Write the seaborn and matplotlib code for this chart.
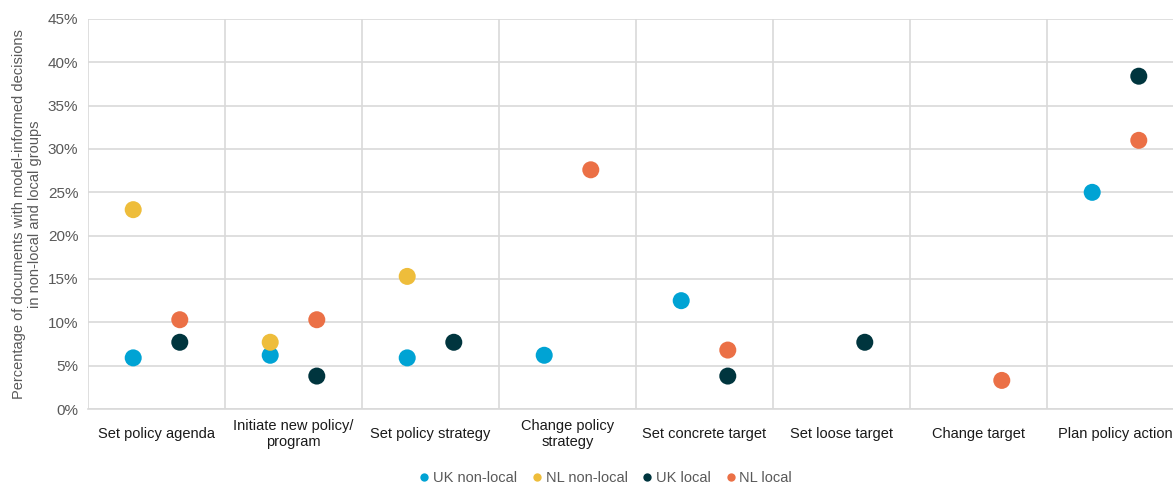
import numpy as np
import pandas as pd
import matplotlib
matplotlib.use("Agg")
import matplotlib.pyplot as plt
import seaborn as sns

# Données (en %)
categories = ["Set policy agenda", "Initiate new policy/\nprogram", "Set policy strategy",
              "Change policy\nstrategy", "Set concrete target", "Set loose target",
              "Change target", "Plan policy action"]
uk_nonlocal = [5.9, 6.2, 5.9, 6.2, 12.5, np.nan, np.nan, 25.0]
nl_nonlocal = [23.0, 7.7, 15.3, np.nan, np.nan, np.nan, np.nan, np.nan]
uk_local = [7.7, 3.8, 7.7, np.nan, 3.8, 7.7, np.nan, 38.4]
nl_local = [10.3, 10.3, np.nan, 27.6, 6.8, np.nan, 3.3, 31.0]

series_names = ["UK non-local", "NL non-local", "UK local", "NL local"]
colors = ["#00A3D4", "#EEBD3B", "#00353E", "#EB7046"]
yticks = [0, 5, 10, 15, 20, 25, 30, 35, 40, 45]

# non-local à gauche, local à droite dans chaque catégorie
offsets = {"UK non-local": -0.17, "NL non-local": -0.17, "UK local": 0.17, "NL local": 0.17}

rows = []
for name, vals in zip(series_names, [uk_nonlocal, nl_nonlocal, uk_local, nl_local]):
    for i, v in enumerate(vals):
        rows.append({"series": name, "cat": i, "pos": i + offsets[name], "value": v})
df = pd.DataFrame(rows).dropna()

sns.set_style("white")
plt.rcParams["font.family"] = ["Liberation Sans", "DejaVu Sans"]

fig = plt.figure(figsize=(11.73, 4.86), dpi=100)
ax = fig.add_axes([88 / 1173, 77 / 486, 1096 / 1173, 390 / 486])

sns.scatterplot(data=df, x="pos", y="value", hue="series", hue_order=series_names,
                palette=dict(zip(series_names, colors)), s=150, linewidth=0,
                zorder=3, ax=ax)

ax.set_xlim(-0.5, len(categories) - 0.5)
ax.set_ylim(0, 45)
ax.set_yticks(yticks)
ax.set_yticklabels([f"{t}%" for t in yticks], color="#595959", fontsize=11)
ax.set_xticks(range(len(categories)))
ax.set_xticklabels(categories, fontsize=10.5, color="#1a1a1a")
for lbl in ax.get_xticklabels():
    lbl.set_va("center")
ax.set_xticks(np.arange(-0.5, len(categories), 1), minor=True)
ax.tick_params(axis="x", which="both", length=0, pad=18)
ax.tick_params(axis="y", length=0, pad=7)

ax.grid(axis="y", color="#D9D9D9", linewidth=1.2)
ax.grid(axis="x", which="minor", color="#D9D9D9", linewidth=1.2)
ax.grid(axis="x", which="major", visible=False)
ax.set_axisbelow(True)
for side in ["top", "right", "left"]:
    ax.spines[side].set_visible(False)
ax.spines["bottom"].set_color("#D9D9D9")
ax.spines["bottom"].set_linewidth(1.2)

ax.set_xlabel("")
ax.set_ylabel("Percentage of documents with model-informed decisions\nin non-local and local groups",
              fontsize=10.5, color="#595959", labelpad=4)

handles, labels = ax.get_legend_handles_labels()
ax.legend_.remove()
for h in handles:
    h.set_markersize(6)
fig.legend(handles, labels, loc="center", bbox_to_anchor=(606 / 1173, 8 / 486),
           ncol=4, frameon=False, fontsize=10.5, handlelength=0.6, handletextpad=0.3,
           columnspacing=1.05, labelcolor="#595959")

fig.savefig("out.png", dpi=100)
